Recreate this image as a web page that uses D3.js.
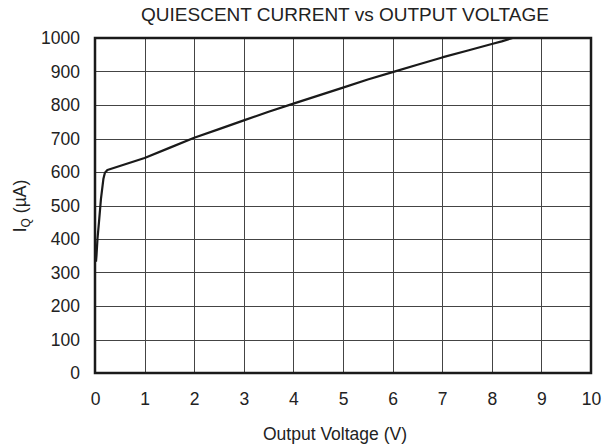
<!DOCTYPE html>
<html>
<head>
<meta charset="utf-8">
<script src="https://d3js.org/d3.v7.min.js"></script>
<style>
  body { margin: 0; background: #fff; }
  text { font-family: "Liberation Sans", Arial, sans-serif; fill: #222; }
</style>
</head>
<body>
<svg id="chart" width="602" height="446"></svg>
<script>
// values
const voltage = [0.02, 0.03, 0.05, 0.08, 0.12, 0.17, 0.2, 0.25, 0.5, 1, 1.5, 2, 2.5, 3, 3.5, 4, 4.5, 5, 5.5, 6, 6.5, 7, 7.5, 8, 8.2, 8.42];
const current = [332, 350, 400, 450, 520, 580, 598, 606, 618, 642, 672, 702, 728, 754, 780, 804, 828, 852, 876, 898, 920, 942, 962, 982, 990, 1000];
const xTicks = [0, 1, 2, 3, 4, 5, 6, 7, 8, 9, 10];
const yTicks = [0, 100, 200, 300, 400, 500, 600, 700, 800, 900, 1000];

const svg = d3.select("#chart");
const margin = { left: 95, right: 11, top: 38, bottom: 73 };
const width = 602 - margin.left - margin.right;
const height = 446 - margin.top - margin.bottom;

const x = d3.scaleLinear().domain([0, 10]).range([0, width]);
const y = d3.scaleLinear().domain([0, 1000]).range([height, 0]);

const g = svg.append("g").attr("transform", `translate(${margin.left},${margin.top})`);

// grid
g.append("g")
  .selectAll("line")
  .data(xTicks.slice(1, -1))
  .join("line")
  .attr("x1", d => Math.round(x(d)) + 0.5)
  .attr("x2", d => Math.round(x(d)) + 0.5)
  .attr("y1", 0)
  .attr("y2", height)
  .attr("stroke", "#444")
  .attr("stroke-width", 1);

g.append("g")
  .selectAll("line")
  .data(yTicks.slice(1, -1))
  .join("line")
  .attr("y1", d => Math.round(y(d)) + 0.5)
  .attr("y2", d => Math.round(y(d)) + 0.5)
  .attr("x1", 0)
  .attr("x2", width)
  .attr("stroke", "#444")
  .attr("stroke-width", 1);

// axes (tick labels only)
const xAxis = g.append("g")
  .attr("transform", `translate(0,${height})`)
  .call(d3.axisBottom(x).tickValues(xTicks).tickSize(0).tickPadding(20).tickFormat(d3.format("d")));
const yAxis = g.append("g")
  .call(d3.axisLeft(y).tickValues(yTicks).tickSize(0).tickPadding(15).tickFormat(d3.format("d")));
[xAxis, yAxis].forEach(a => {
  a.select(".domain").remove();
  a.selectAll("text").attr("font-size", 17.5).attr("fill", "#222").style("font-family", "Liberation Sans, Arial, sans-serif");
});

// curve
const line = d3.line().x((d, i) => x(voltage[i])).y(d => y(d));
g.append("path")
  .datum(current)
  .attr("d", line)
  .attr("fill", "none")
  .attr("stroke", "#1a1a1a")
  .attr("stroke-width", 2.2)
  .attr("stroke-linejoin", "round");

// frame
g.append("rect")
  .attr("x", 0).attr("y", 0)
  .attr("width", width).attr("height", height)
  .attr("fill", "none")
  .attr("stroke", "#1a1a1a")
  .attr("stroke-width", 2.5);

// titles
svg.append("text")
  .attr("x", 345).attr("y", 21)
  .attr("text-anchor", "middle")
  .attr("font-size", 19)
  .text("QUIESCENT CURRENT vs OUTPUT VOLTAGE");

svg.append("text")
  .attr("x", 335).attr("y", 440)
  .attr("text-anchor", "middle")
  .attr("font-size", 17.5)
  .text("Output Voltage (V)");

const yl = svg.append("text")
  .attr("transform", "translate(26,206) rotate(-90)")
  .attr("text-anchor", "middle")
  .attr("font-size", 17.5);
yl.append("tspan").text("I");
yl.append("tspan").attr("font-size", 12).attr("dy", 4).text("Q");
yl.append("tspan").attr("dy", -4).text(" (\u00b5A)");
</script>
</body>
</html>
